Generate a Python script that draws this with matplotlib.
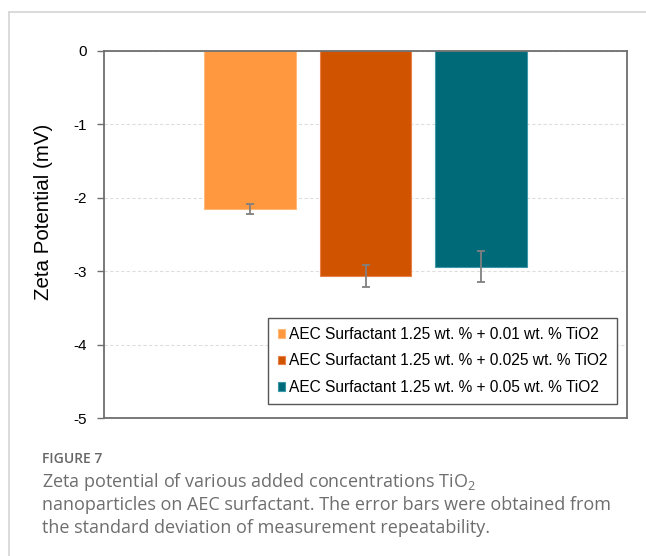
import matplotlib
matplotlib.use('Agg')
import matplotlib.pyplot as plt
from matplotlib.lines import Line2D

# data
series = ['AEC Surfactant 1.25 wt. % + 0.01 wt. % TiO2',
          'AEC Surfactant 1.25 wt. % + 0.025 wt. % TiO2',
          'AEC Surfactant 1.25 wt. % + 0.05 wt. % TiO2']
zeta = [-2.15, -3.07, -2.94]
zeta_err = [0.07, 0.15, 0.21]
colors = ['#FF983E', '#D05400', '#006A78']
edges = ['#FFB978', '#E8804A', '#3E97A6']
yticks = [0, -1, -2, -3, -4, -5]

plt.rcParams['mathtext.fontset'] = 'custom'
plt.rcParams['mathtext.rm'] = 'Open Sans'

W, H = 646, 556
fig = plt.figure(figsize=(W / 100, H / 100), dpi=100)
ax = fig.add_axes([104 / W, 1 - 418 / H, (627 - 104) / W, (418 - 51) / H])

positions = [-1, 0, 1]
for i in range(len(series)):
    ax.bar(positions[i], zeta[i], width=0.79, color=colors[i], edgecolor=edges[i],
           linewidth=0.8, label=series[i], zorder=2)
    ax.errorbar(positions[i], zeta[i], yerr=zeta_err[i], fmt='none', ecolor='#808080',
                elinewidth=1.3, capsize=3, capthick=1.3, zorder=3)

ax.set_xlim(-2.264, 2.264)
ax.set_ylim(-5, 0)
ax.set_yticks(yticks)
ax.set_yticklabels([str(t) for t in yticks], fontfamily='Liberation Sans', fontsize=11)
ax.set_xticks([])
ax.tick_params(axis='y', direction='out', length=5, width=1, color='#6e6e6e', pad=7)
for s in ax.spines.values():
    s.set_color('#6e6e6e')
    s.set_linewidth(1.3)
ax.yaxis.grid(True, linestyle=(0, (3, 2)), color='#dedede', linewidth=0.8, zorder=0)
ax.set_axisbelow(True)
ax.set_ylabel('Zeta Potential (mV)', fontfamily='Liberation Sans', fontsize=14.8)
ax.yaxis.set_label_coords(-0.098, 0.561)

leg = ax.legend(loc='lower right', bbox_to_anchor=(617 / W, 1 - 404 / H),
                bbox_transform=fig.transFigure, prop={'family': 'Liberation Sans', 'size': 11.2},
                handlelength=0.5, handleheight=0.5, handletextpad=0.25, labelspacing=0.72,
                borderpad=0.6, fancybox=False, framealpha=1, borderaxespad=0)
leg.get_frame().set_edgecolor('#555555')
leg.get_frame().set_linewidth(1.0)

# surrounding figure frame (light gray)
fig.add_artist(Line2D([9 / W, 1], [1 - 12 / H, 1 - 12 / H], color='#d4d4d4', linewidth=1.2))
fig.add_artist(Line2D([9 / W, 9 / W], [0, 1 - 12 / H], color='#d4d4d4', linewidth=1.2))

# caption
fig.text(42 / W, 1 - 459 / H, 'FIGURE 7', fontfamily='Open Sans', fontweight='semibold',
         fontsize=10, color='#666666', va='center')
caption = ['Zeta potential of various added concentrations TiO$_2$',
           'nanoparticles on AEC surfactant. The error bars were obtained from',
           'the standard deviation of measurement repeatability.']
for k, line in enumerate(caption):
    fig.text(42 / W, 1 - (482 + 23 * k) / H, line, fontfamily='Open Sans',
             fontsize=13.0, color='#6e6e6e', va='center')

fig.savefig('out.png', dpi=100)
